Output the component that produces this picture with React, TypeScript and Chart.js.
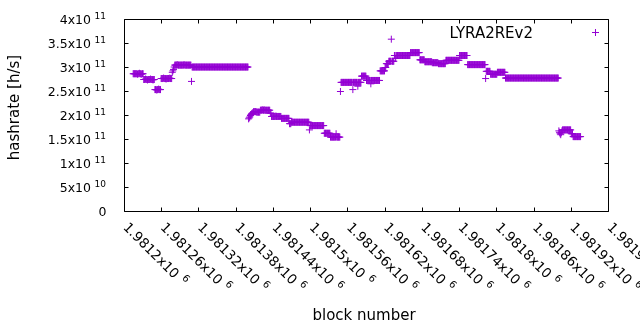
import { useEffect, useRef } from "react";
import { Chart, registerables } from "chart.js";

Chart.register(...registerables);

// ---- data ----
const SERIES_LABEL = "LYRA2REv2";
const X_AXIS_TITLE = "block number";
const Y_AXIS_TITLE = "hashrate [h/s]";
const FIRST_BLOCK = 1981210; // block number of the first entry below
// hashrate per block, in units of 1e9 h/s (null = no data)
const hashrateGH: (number | null)[] = [
  null, null, null, null, 287, 287, 287, 287, 287, 287,
  287, 286, 287, 287, 288, 287, 287, 286, 287, 287,
  287, 275, 275, 275, 276, 275, 275, 274, 275, 275,
  275, 275, 276, 275, 275, 275, 274, 275, 275, 254,
  254, 254, 253, 254, 254, 255, 254, 254, 254, 277,
  277, 277, 277, 278, 277, 277, 277, 276, 277, 277,
  277, 277, 277, 278, 277, 277, 277, 290, 293, 296,
  301, 305, 305, 305, 305, 306, 305, 305, 305, 305,
  305, 305, 305, 305, 305, 305, 306, 305, 305, 305,
  305, 305, 305, 305, 305, 305, 305, 305, 271, 301,
  301, 301, 301, 301, 301, 301, 301, 301, 301, 301,
  301, 301, 301, 301, 301, 301, 301, 301, 301, 301,
  301, 301, 301, 301, 301, 301, 301, 301, 301, 301,
  301, 301, 301, 301, 301, 301, 301, 301, 301, 301,
  301, 301, 301, 301, 301, 301, 301, 301, 301, 301,
  301, 301, 301, 301, 301, 301, 301, 301, 301, 301,
  301, 301, 301, 301, 301, 301, 301, 301, 301, 301,
  301, 301, 301, 301, 301, 301, 301, 301, 301, 301,
  301, 301, 301, 301, 301, 301, 301, 301, 301, 301,
  193, 195, 197, 200, 202, 204, 205, 206, 208, 208,
  208, 208, 208, 207, 207, 207, 207, 207, 207, 211,
  211, 211, 212, 211, 211, 212, 211, 211, 211, 211,
  211, 211, 211, 211, 211, 205, 205, 198, 198, 198,
  198, 198, 198, 198, 199, 198, 198, 198, 198, 198,
  198, 198, 198, 194, 194, 194, 194, 194, 194, 194,
  194, 194, 194, 194, 194, 194, 183, 183, 183, 186,
  186, 186, 186, 186, 186, 186, 186, 186, 186, 186,
  186, 186, 186, 186, 186, 186, 186, 186, 186, 186,
  186, 186, 186, 186, 186, 186, 186, 186, 170, 179,
  179, 179, 179, 179, 179, 179, 179, 179, 179, 179,
  179, 179, 179, 179, 179, 179, 179, 179, 179, 179,
  179, 179, 163, 163, 163, 163, 163, 163, 163, 163,
  163, 163, 155, 155, 155, 155, 155, 155, 155, 155,
  155, 162, 155, 155, 155, 155, 155, 155, 250, 269,
  269, 269, 269, 269, 269, 269, 269, 269, 269, 269,
  269, 269, 269, 269, 269, 269, 269, 269, 254, 269,
  269, 269, 269, 269, 269, 269, 261, 269, 269, 269,
  269, 269, 282, 282, 282, 282, 282, 282, 282, 282,
  273, 273, 273, 273, 273, 273, 273, 266, 273, 273,
  273, 273, 273, 273, 273, 273, 273, 273, 273, 273,
  273, 273, 293, 293, 293, 293, 293, 293, 293, 293,
  300, 300, 308, 308, 308, 308, 313, 313, 313, 313,
  359, 313, 313, 313, 313, 325, 325, 319, 325, 325,
  325, 325, 325, 325, 325, 325, 325, 325, 325, 325,
  325, 325, 325, 325, 325, 325, 325, 325, 325, 325,
  325, 331, 331, 331, 331, 331, 331, 331, 331, 331,
  331, 331, 331, 331, 331, 331, 316, 316, 316, 316,
  316, 316, 316, 316, 312, 312, 312, 312, 312, 312,
  312, 312, 312, 312, 312, 312, 310, 310, 310, 310,
  310, 310, 310, 310, 310, 310, 308, 308, 308, 308,
  308, 308, 308, 308, 308, 308, 308, 308, 315, 315,
  315, 315, 315, 315, 315, 315, 315, 315, 315, 315,
  315, 315, 315, 315, 315, 315, 315, 315, 315, 315,
  325, 325, 325, 325, 325, 325, 325, 325, 325, 325,
  325, 325, 325, 306, 306, 306, 306, 306, 306, 306,
  306, 306, 306, 306, 306, 306, 306, 306, 306, 306,
  306, 306, 306, 306, 306, 306, 306, 306, 306, 306,
  306, 306, 277, 292, 292, 292, 292, 292, 292, 292,
  286, 286, 286, 286, 286, 286, 286, 286, 286, 286,
  286, 290, 290, 290, 290, 290, 290, 290, 290, 290,
  290, 290, 290, 290, 278, 278, 278, 278, 278, 278,
  278, 278, 278, 278, 278, 278, 278, 278, 278, 278,
  278, 278, 278, 278, 278, 278, 278, 278, 278, 278,
  278, 278, 278, 278, 278, 278, 278, 278, 278, 278,
  278, 278, 278, 278, 278, 278, 278, 278, 278, 278,
  278, 278, 278, 278, 278, 278, 278, 278, 278, 278,
  278, 278, 278, 278, 278, 278, 278, 278, 278, 278,
  278, 278, 278, 278, 278, 278, 278, 278, 278, 278,
  278, 278, 278, 278, 278, 278, 278, 278, 278, 278,
  168, 165, 162, 160, 164, 168, 170, 170, 170, 170,
  170, 170, 170, 170, 170, 170, 170, 170, 170, 170,
  162, 162, 162, 156, 156, 156, 156, 156, 156, 156,
  156, 156, 156, 156, 156, 156,
];

const X_MIN = 1981200;
const X_MAX = 1981980;
const xTickValues = [
  1981200, 1981260, 1981320, 1981380, 1981440, 1981500, 1981560,
  1981620, 1981680, 1981740, 1981800, 1981860, 1981920, 1981980,
];
const xTickBase = [
  "1.9812x10", "1.98126x10", "1.98132x10", "1.98138x10", "1.98144x10",
  "1.9815x10", "1.98156x10", "1.98162x10", "1.98168x10", "1.98174x10",
  "1.9818x10", "1.98186x10", "1.98192x10", "1.98198x10",
];
const xTickExp = ["6", "6", "6", "6", "6", "6", "6", "6", "6", "6", "6", "6", "6", "6"];

const Y_MIN = 0;
const Y_MAX = 4e11;
const yTickValues = [0, 5e10, 1e11, 1.5e11, 2e11, 2.5e11, 3e11, 3.5e11, 4e11];
const yTickBase = ["0", "5x10", "1x10", "1.5x10", "2x10", "2.5x10", "3x10", "3.5x10", "4x10"];
const yTickExp = ["", "10", "11", "11", "11", "11", "11", "11", "11"];

// ---- style ----
const PURPLE = "#9400d3";
const FONT = '"DejaVu Sans", sans-serif';
const TICK_LEN = 4;

const gnuplotFrame = {
  id: "gnuplotFrame",
  beforeDatasetsDraw(chart: any) {
    const { ctx, chartArea: a, scales } = chart;
    const xs = scales.x;
    const ys = scales.y;
    ctx.save();
    ctx.strokeStyle = "#000";
    ctx.lineWidth = 1;
    ctx.beginPath();
    for (const v of yTickValues) {
      const y = Math.round(ys.getPixelForValue(v) - 0.5) + 0.5;
      ctx.moveTo(a.left, y);
      ctx.lineTo(a.left + TICK_LEN, y);
      ctx.moveTo(a.right, y);
      ctx.lineTo(a.right - TICK_LEN, y);
    }
    for (const v of xTickValues) {
      const x = Math.round(xs.getPixelForValue(v) - 0.5) + 0.5;
      ctx.moveTo(x, a.bottom);
      ctx.lineTo(x, a.bottom - TICK_LEN);
      ctx.moveTo(x, a.top);
      ctx.lineTo(x, a.top + TICK_LEN);
    }
    ctx.rect(a.left, a.top, a.right - a.left, a.bottom - a.top);
    ctx.stroke();

    ctx.fillStyle = "#000";
    // y tick labels
    ctx.textBaseline = "alphabetic";
    for (let i = 0; i < yTickValues.length; i++) {
      const y = ys.getPixelForValue(yTickValues[i]);
      if (yTickExp[i]) {
        ctx.font = `9px ${FONT}`;
        ctx.textAlign = "right";
        ctx.fillText(yTickExp[i], 106, y - 1);
        ctx.font = `12.5px ${FONT}`;
        ctx.fillText(yTickBase[i], 91, y + 4.5);
      } else {
        ctx.font = `12.5px ${FONT}`;
        ctx.textAlign = "right";
        ctx.fillText(yTickBase[i], 106.5, y + 4.5);
      }
    }
    // x tick labels (rotated)
    for (let i = 0; i < xTickValues.length; i++) {
      const x = xs.getPixelForValue(xTickValues[i]);
      ctx.save();
      ctx.translate(x - 2, 228);
      ctx.rotate(Math.PI / 4);
      ctx.textAlign = "left";
      ctx.font = `13.5px ${FONT}`;
      ctx.fillText(xTickBase[i], 0, 0);
      const w = ctx.measureText(xTickBase[i]).width;
      ctx.font = `10px ${FONT}`;
      ctx.fillText(xTickExp[i], w + 5, -6);
      ctx.restore();
    }
    // axis titles
    ctx.font = `15px ${FONT}`;
    ctx.textAlign = "center";
    ctx.fillText(X_AXIS_TITLE, 364, 320);
    ctx.save();
    ctx.translate(19, 107.5);
    ctx.rotate(-Math.PI / 2);
    ctx.fillText(Y_AXIS_TITLE, 0, 0);
    ctx.restore();
    ctx.restore();
  },
  afterDatasetsDraw(chart: any) {
    const { ctx } = chart;
    ctx.save();
    ctx.fillStyle = "#000";
    ctx.font = `15px ${FONT}`;
    ctx.textAlign = "right";
    ctx.textBaseline = "alphabetic";
    ctx.fillText(SERIES_LABEL, 533, 38);
    ctx.strokeStyle = PURPLE;
    ctx.lineWidth = 1;
    ctx.beginPath();
    ctx.moveTo(592, 32.5);
    ctx.lineTo(599, 32.5);
    ctx.moveTo(595.5, 29);
    ctx.lineTo(595.5, 36);
    ctx.stroke();
    ctx.restore();
  },
};

export default function App() {
  const ref = useRef<HTMLCanvasElement | null>(null);
  useEffect(() => {
    const canvas = ref.current;
    if (!canvas) return;
    const points = hashrateGH
      .map((v, i) => (v == null ? null : { x: FIRST_BLOCK + i, y: v * 1e9 }))
      .filter((p) => p !== null) as { x: number; y: number }[];
    const chart = new Chart(canvas, {
      type: "scatter",
      data: {
        datasets: [
          {
            label: SERIES_LABEL,
            data: points,
            pointStyle: "cross",
            pointRadius: 3.5,
            pointHoverRadius: 3.5,
            borderColor: PURPLE,
            backgroundColor: PURPLE,
            borderWidth: 1,
            showLine: false,
          } as any,
        ],
      },
      options: {
        responsive: false,
        animation: false,
        devicePixelRatio: 1,
        events: [],
        layout: { padding: { left: 124.5, top: 19.5, right: 31.5, bottom: 118.5 } },
        scales: {
          x: { type: "linear", min: X_MIN, max: X_MAX, display: false },
          y: { type: "linear", min: Y_MIN, max: Y_MAX, display: false },
        },
        plugins: { legend: { display: false }, tooltip: { enabled: false } },
      },
      plugins: [gnuplotFrame],
    });
    return () => chart.destroy();
  }, []);
  return (
    <div style={{ position: "absolute", left: 0, top: 0, width: 640, height: 330, background: "#fff" }}>
      <canvas ref={ref} width={640} height={330} style={{ display: "block" }} />
    </div>
  );
}
